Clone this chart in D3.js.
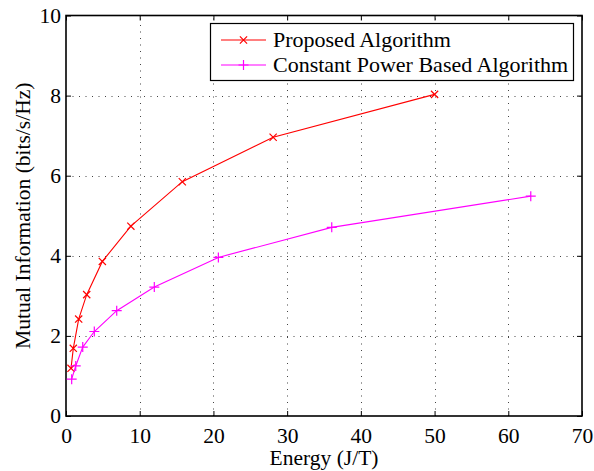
<!DOCTYPE html>
<html>
<head>
<meta charset="utf-8">
<script src="https://cdn.jsdelivr.net/npm/d3@7"></script>
<style>
  body { margin: 0; background: #fff; }
  svg text { font-family: "Liberation Serif", "Times New Roman", serif; fill: #000; }
</style>
</head>
<body>
<div id="chart"></div>
<script>
const width = 594;
const height = 471;
const margin = { top: 15.5, right: 12, bottom: 55, left: 66 };
const serif = "Liberation Serif, Times New Roman, serif";

// data
const xTicks = [0, 10, 20, 30, 40, 50, 60, 70];
const yTicks = [0, 2, 4, 6, 8, 10];

const proposedEnergy = [0.68, 0.99, 1.72, 2.81, 4.93, 8.8, 15.78, 28.1, 50];
const proposedMI = [1.19, 1.69, 2.42, 3.03, 3.86, 4.74, 5.85, 6.96, 8.03];

const constantEnergy = [0.77, 1.32, 2.27, 3.84, 6.88, 11.98, 20.67, 36.05, 63.05];
const constantMI = [0.92, 1.25, 1.72, 2.11, 2.63, 3.22, 3.96, 4.71, 5.49];

const seriesNames = ["Proposed Algorithm", "Constant Power Based Algorithm"];

const series = [
  { name: seriesNames[0], color: "#ff0000", marker: "x",
    points: proposedEnergy.map((e, i) => [e, proposedMI[i]]) },
  { name: seriesNames[1], color: "#ff00ff", marker: "+",
    points: constantEnergy.map((e, i) => [e, constantMI[i]]) }
];

const svg = d3.select("#chart")
  .append("svg")
  .attr("width", width)
  .attr("height", height)
  .attr("font-family", serif);

const x = d3.scaleLinear().domain([0, 70]).range([margin.left, width - margin.right]);
const y = d3.scaleLinear().domain([0, 10]).range([height - margin.bottom, margin.top]);

// dotted grid
const grid = svg.append("g").attr("stroke", "#444").attr("stroke-width", 1)
  .attr("stroke-dasharray", "1,5.5");
grid.selectAll(".gx")
  .data(xTicks.slice(1, -1))
  .enter().append("line")
  .attr("x1", d => Math.round(x(d)) + 0.5).attr("x2", d => Math.round(x(d)) + 0.5)
  .attr("y1", y(0)).attr("y2", y(10));
grid.selectAll(".gy")
  .data(yTicks.slice(1, -1))
  .enter().append("line")
  .attr("y1", d => Math.round(y(d)) + 0.5).attr("y2", d => Math.round(y(d)) + 0.5)
  .attr("x1", x(0)).attr("x2", x(70));

// axes with inward ticks
svg.append("g")
  .attr("transform", `translate(0,${y(0)})`)
  .call(d3.axisBottom(x).tickValues(xTicks).tickSizeInner(-5).tickSizeOuter(0).tickPadding(11.5));
svg.append("g")
  .attr("transform", `translate(${x(0)},0)`)
  .call(d3.axisLeft(y).tickValues(yTicks).tickSizeInner(-5).tickSizeOuter(0).tickPadding(5));
svg.append("g")
  .attr("transform", `translate(0,${y(10)})`)
  .call(d3.axisTop(x).tickValues(xTicks).tickSizeInner(-5).tickSizeOuter(0).tickFormat(""));
svg.append("g")
  .attr("transform", `translate(${x(70)},0)`)
  .call(d3.axisRight(y).tickValues(yTicks).tickSizeInner(-5).tickSizeOuter(0).tickFormat(""));

svg.selectAll(".domain").remove();
svg.selectAll("g").attr("font-family", serif).attr("font-size", 21.5);
svg.selectAll(".tick line").attr("stroke", "#000");

// plot box
svg.append("rect")
  .attr("x", x(0)).attr("y", y(10))
  .attr("width", x(70) - x(0)).attr("height", y(0) - y(10))
  .attr("fill", "none").attr("stroke", "#000").attr("stroke-width", 1.6);

// lines and markers
const line = d3.line().x(d => x(d[0])).y(d => y(d[1]));

function drawMarker(g, type, color, size) {
  if (type === "x") {
    g.append("path").attr("d", `M${-size},${-size}L${size},${size}M${-size},${size}L${size},${-size}`);
  } else {
    g.append("path").attr("d", `M${-size},0L${size},0M0,${-size}L0,${size}`);
  }
  g.selectAll("path").attr("stroke", color).attr("stroke-width", 1.2).attr("fill", "none");
}

series.forEach(s => {
  svg.append("path")
    .datum(s.points)
    .attr("fill", "none")
    .attr("stroke", s.color)
    .attr("stroke-width", 1.1)
    .attr("d", line);

  svg.append("g").selectAll("g")
    .data(s.points)
    .enter().append("g")
    .attr("transform", d => `translate(${x(d[0])},${y(d[1])})`)
    .each(function () {
      drawMarker(d3.select(this), s.marker, s.color, s.marker === "x" ? 3.6 : 5);
    });
});

// axis labels
svg.append("text")
  .attr("x", (x(0) + x(70)) / 2)
  .attr("y", 465)
  .attr("text-anchor", "middle")
  .attr("font-size", 21.5)
  .text("Energy (J/T)");

svg.append("text")
  .attr("transform", `translate(30,${(y(0) + y(10)) / 2}) rotate(-90)`)
  .attr("text-anchor", "middle")
  .attr("font-size", 21.5)
  .text("Mutual Information (bits/s/Hz)");

// legend
const legend = svg.append("g");
legend.append("rect")
  .attr("x", 210.5).attr("y", 23.5)
  .attr("width", 363).attr("height", 57)
  .attr("fill", "#fff").attr("stroke", "#000").attr("stroke-width", 1.2);

series.forEach((s, i) => {
  const ly = 40 + i * 25;
  legend.append("line")
    .attr("x1", 221).attr("x2", 266)
    .attr("y1", ly).attr("y2", ly)
    .attr("stroke", s.color).attr("stroke-width", 1.1);
  const m = legend.append("g").attr("transform", `translate(243.5,${ly})`);
  drawMarker(m, s.marker, s.color, s.marker === "x" ? 3.6 : 5);
  legend.append("text")
    .attr("x", 273).attr("y", ly + 7.3)
    .attr("font-size", 22)
    .text(s.name);
});
</script>
</body>
</html>
